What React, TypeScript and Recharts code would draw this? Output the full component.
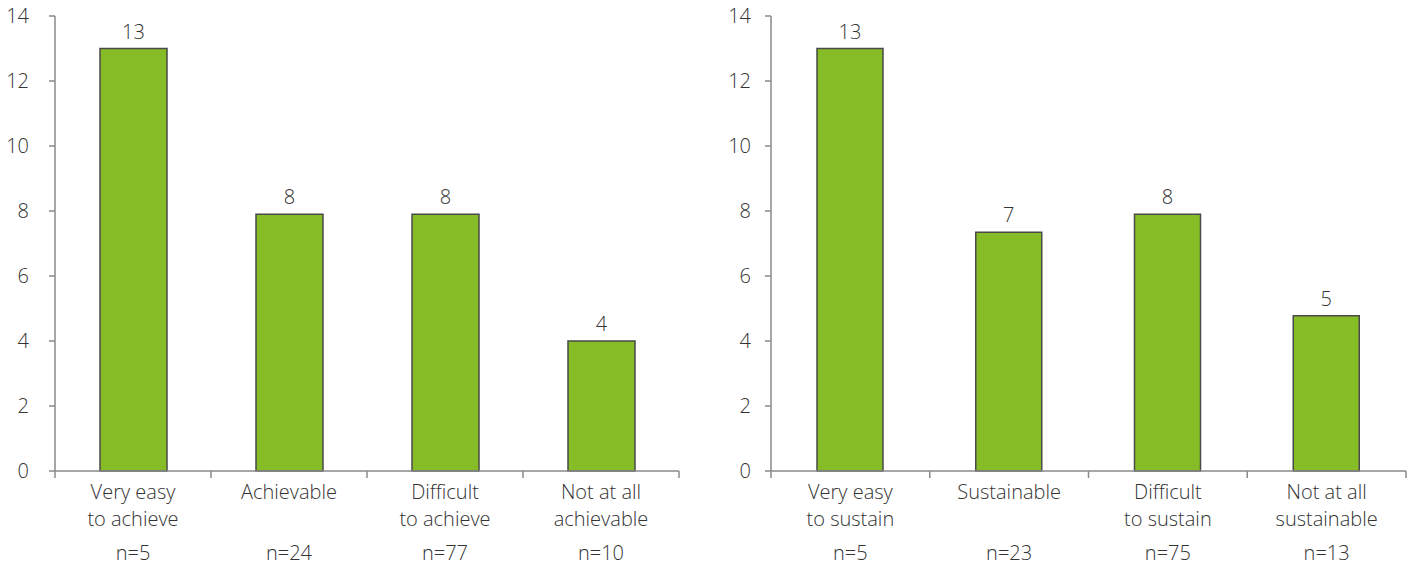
import React from "react";
import { BarChart, Bar, XAxis, YAxis, LabelList } from "recharts";

// Left panel: how achievable the target is
const achieveCategories = [
  ["Very easy", "to achieve"],
  ["Achievable"],
  ["Difficult", "to achieve"],
  ["Not at all", "achievable"],
];
const achieveValues = [13, 7.9, 7.9, 4.0];
const achieveCounts = ["n=5", "n=24", "n=77", "n=10"];

// Right panel: how sustainable the result is
const sustainCategories = [
  ["Very easy", "to sustain"],
  ["Sustainable"],
  ["Difficult", "to sustain"],
  ["Not at all", "sustainable"],
];
const sustainValues = [13, 7.35, 7.9, 4.78];
const sustainCounts = ["n=5", "n=23", "n=75", "n=13"];

const yTicks = [0, 2, 4, 6, 8, 10, 12, 14];

const FONT = "'Open Sans', 'Noto Sans', sans-serif";
const FONT_SIZE = 20;
const TEXT = "#333333";
const AXIS = "#8a8a8a";
const GREEN = "#86bc25";
const EDGE = "#4a4a4a";

type PanelProps = {
  categories: string[][];
  values: number[];
  counts: string[];
  left: number;
  width: number;
  axisWidth: number;
  rightMargin: number;
  barSize: number;
  tickMargin: number;
};

function Panel(p: PanelProps) {
  const height = 566;
  const data = p.categories.map((c, i) => ({
    name: c.join(" "),
    value: p.values[i],
  }));
  const plotWidth = p.width - p.axisWidth - p.rightMargin;
  const band = plotWidth / p.categories.length;

  const CategoryTick = (props: any) => {
    const { x, y, index } = props;
    const lines = p.categories[index] || [];
    const last = index === p.categories.length - 1;
    return (
      <g>
        <line x1={x - band / 2} x2={x - band / 2} y1={y} y2={y + 7} stroke={AXIS} strokeWidth={1.5} />
        {last && (
          <line x1={x + band / 2} x2={x + band / 2} y1={y} y2={y + 7} stroke={AXIS} strokeWidth={1.5} />
        )}
        {lines.map((t, k) => (
          <text
            key={k}
            x={x}
            y={y + 28 + k * 27}
            textAnchor="middle"
            fontFamily={FONT}
            fontWeight={300}
            fontSize={FONT_SIZE}
            fill={TEXT}
          >
            {t}
          </text>
        ))}
        <text
          x={x}
          y={y + 89}
          textAnchor="middle"
          fontFamily={FONT}
          fontWeight={300}
          fontSize={FONT_SIZE}
          fill={TEXT}
        >
          {p.counts[index]}
        </text>
      </g>
    );
  };

  return (
    <div style={{ position: "absolute", left: p.left, top: 0 }}>
      <BarChart
        width={p.width}
        height={height}
        data={data}
        margin={{ top: 16, right: p.rightMargin, left: 0, bottom: 0 }}
      >
        <XAxis
          dataKey="name"
          height={95}
          interval={0}
          tickLine={false}
          tickSize={0}
          tickMargin={0}
          axisLine={{ stroke: AXIS, strokeWidth: 1.5 }}
          tick={<CategoryTick />}
        />
        <YAxis
          width={p.axisWidth}
          domain={[0, 14]}
          ticks={yTicks}
          interval={0}
          tickSize={6}
          tickMargin={p.tickMargin}
          axisLine={{ stroke: AXIS, strokeWidth: 1.5 }}
          tickLine={{ stroke: AXIS, strokeWidth: 1.5 }}
          tick={{ fontFamily: FONT, fontWeight: 300, fontSize: FONT_SIZE, fill: TEXT }}
        />
        <Bar
          dataKey="value"
          fill={GREEN}
          stroke={EDGE}
          strokeWidth={1.5}
          barSize={p.barSize}
          isAnimationActive={false}
        >
          <LabelList
            dataKey="value"
            position="top"
            offset={10}
            formatter={(v: any) => Math.round(Number(v))}
            style={{ fontFamily: FONT, fontWeight: 300, fontSize: FONT_SIZE, fill: TEXT }}
          />
        </Bar>
      </BarChart>
    </div>
  );
}

export default function App() {
  return (
    <div
      style={{
        position: "absolute",
        left: 0,
        top: 0,
        width: 1415,
        height: 566,
        background: "#ffffff",
      }}
    >
      <Panel
        categories={achieveCategories}
        values={achieveValues}
        counts={achieveCounts}
        left={0}
        width={700}
        axisWidth={55}
        rightMargin={21}
        barSize={67}
        tickMargin={20}
      />
      <Panel
        categories={sustainCategories}
        values={sustainValues}
        counts={sustainCounts}
        left={700}
        width={715}
        axisWidth={71}
        rightMargin={9}
        barSize={66}
        tickMargin={14}
      />
    </div>
  );
}
